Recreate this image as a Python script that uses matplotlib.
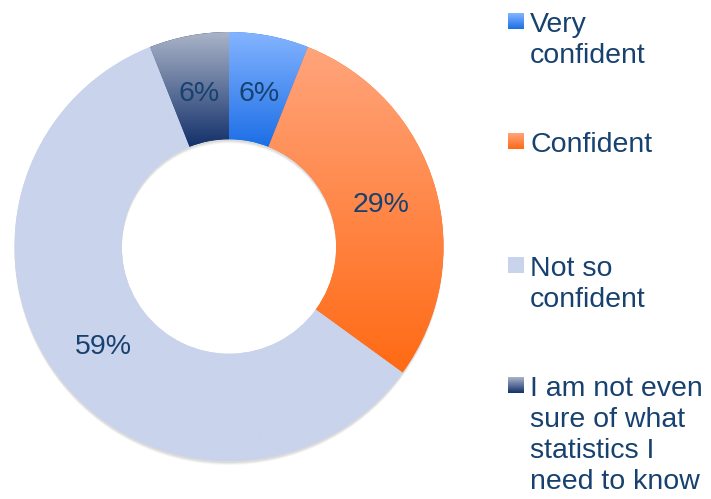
import numpy as np
import matplotlib.pyplot as plt
from matplotlib.colors import LinearSegmentedColormap
from matplotlib.patches import Wedge

plt.rcParams["font.family"] = ["Liberation Sans", "DejaVu Sans"]

# data
categories = [
    "Very\nconfident",
    "Confident",
    "Not so\nconfident",
    "I am not even\nsure of what\nstatistics I\nneed to know",
]
values = [6, 29, 59, 6]

# gradient colours per slice (top, bottom)
top_colors = ["#84B4FF", "#FFA47C", "#C9D3EC", "#AAB4C8"]
bottom_colors = ["#1C6EE6", "#FF6A14", "#C9D3EC", "#13306A"]
text_color = "#17416F"

W, H = 711, 499
fig = plt.figure(figsize=(W / 100, H / 100), dpi=100)
ax = fig.add_axes([0, 0, 1, 1])

cx, cy = 229, H - 246.5
R = 214.5
ring = R * 0.5

# soft shadow under the ring
for off, a in [(4, 0.06), (3, 0.08), (2, 0.10)]:
    sh = Wedge((cx, cy - off), R, 0, 360, width=ring, facecolor="#606060",
               edgecolor="none", alpha=a, zorder=0)
    ax.add_patch(sh)

wedges, texts, autotexts = ax.pie(
    values,
    colors=bottom_colors,
    startangle=90,
    counterclock=False,
    center=(cx, cy),
    radius=R,
    wedgeprops=dict(width=ring, linewidth=0),
    autopct=lambda p: "%.0f%%" % p,
    pctdistance=0.74,
    textprops=dict(color=text_color, fontsize=20.5),
)

for i, w in enumerate(wedges):
    w.set_zorder(1)
    cmap = LinearSegmentedColormap.from_list("g%d" % i, [top_colors[i], bottom_colors[i]])
    bb = w.get_path().get_extents()
    grad = np.linspace(0, 1, 256).reshape(-1, 1)
    im = ax.imshow(grad, cmap=cmap, extent=[bb.x0, bb.x1, bb.y0, bb.y1],
                   origin="upper", aspect="auto", interpolation="bilinear", zorder=2)
    im.set_clip_path(w)

for t in autotexts:
    t.set_zorder(5)
    t.set_va("center_baseline")

# legend
tops = [12, 132, 256, 376]
for i, lab in enumerate(categories):
    y = H - tops[i]
    cmap = LinearSegmentedColormap.from_list("l%d" % i, [top_colors[i], bottom_colors[i]])
    grad = np.linspace(0, 1, 64).reshape(-1, 1)
    ax.imshow(grad, cmap=cmap, extent=[507.5, 523, y - 17, y - 1.5],
              origin="upper", aspect="auto", interpolation="bilinear", zorder=3)
    ax.text(530, y, lab, color=text_color, fontsize=20.5, va="top", ha="left",
            linespacing=1.245, zorder=5)

ax.set_xlim(0, W)
ax.set_ylim(0, H)
ax.set_aspect("equal")
ax.axis("off")

fig.savefig("out.png", dpi=100)
